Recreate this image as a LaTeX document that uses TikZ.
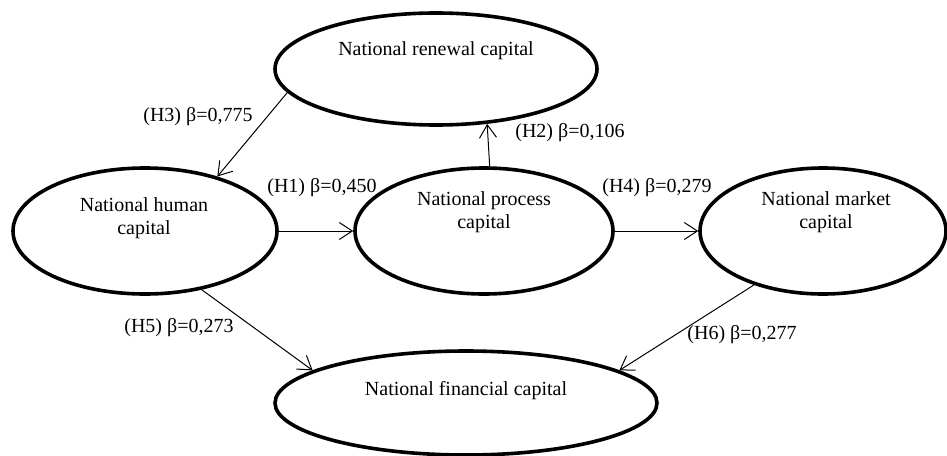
\documentclass[tikz,border=0pt]{standalone}
\usepackage{fontspec}
\setmainfont{Liberation Serif}
\usetikzlibrary{shapes.geometric,arrows.meta}
\begin{document}
\begin{tikzpicture}[x=1pt,y=-1pt,
  capital/.style={draw,ellipse,line width=3.6pt,inner sep=0pt},
  captext/.style={align=center,inner sep=0pt,font=\fontsize{20}{23}\selectfont},
  beta/.style={inner sep=0pt,font=\fontsize{20}{23}\selectfont},
  path/.style={line width=1pt,-{Straight Barb[length=13pt,width=17pt,line width=1pt]}}]
\useasboundingbox (0,0) rectangle (947,455);

% constructs
\node[capital,minimum width=322pt,minimum height=112pt] (renewal) at (436,69) {};
\node[capital,minimum width=264pt,minimum height=126pt] (human) at (145,231) {};
\node[capital,minimum width=258pt,minimum height=126pt] (process) at (484,231) {};
\node[capital,minimum width=246pt,minimum height=126pt] (market) at (823,231) {};
\node[capital,minimum width=382pt,minimum height=104pt] (financial) at (466,403) {};

\node[captext] (renewal-t) at (436,51) {National renewal capital};
\node[captext] (human-t) at (144,218) {National human\\capital};
\node[captext] (process-t) at (484,212) {National process\\capital};
\node[captext] (market-t) at (826,212) {National market\\capital};
\node[captext] (financial-t) at (466,391) {National financial capital};

% structural paths
\draw[path] (renewal.189) -- (human.37.5);
\draw[path] (process.85.5) -- (renewal.-47.8);
\draw[path] (human.east) -- (process.west);
\draw[path] (process.east) -- (market.west);
\draw[path] (human.-46) -- (financial.168);
\draw[path] (market.-142) -- (financial.12.2);

% path coefficients
\node[beta] (h3) at (198,117) {(H3) β=0,775};
\node[beta] (h1) at (322,188) {(H1) β=0,450};
\node[beta] (h2) at (570,133) {(H2) β=0,106};
\node[beta] (h4) at (657,188) {(H4) β=0,279};
\node[beta] (h5) at (179,328) {(H5) β=0,273};
\node[beta] (h6) at (742,335) {(H6) β=0,277};
\end{tikzpicture}
\end{document}
